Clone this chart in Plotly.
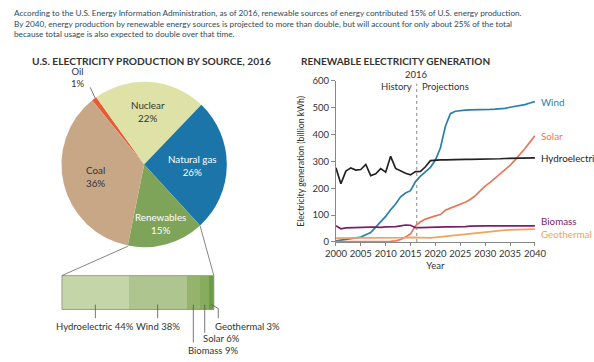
import math
import plotly.graph_objects as go

W, H = 594, 362
FONT = "Lato"

# ---------------- data ----------------
pie_labels = ["Oil", "Nuclear", "Natural gas", "Renewables", "Coal"]
pie_values = [1, 22, 26, 15, 36]
pie_colors = ["#e85a35", "#dfe2a6", "#1b75a8", "#7ea45a", "#c8a787"]
pie_text_colors = ["#333", "#333", "white", "white", "#333"]

ren_labels = ["Hydroelectric", "Wind", "Biomass", "Solar", "Geothermal"]
ren_values = [44, 38, 9, 6, 3]
ren_colors = ["#c4d5a8", "#afc58f", "#94b46c", "#86ad5e", "#6b9c47"]

years = list(range(2000, 2041))
hydro = [276, 217, 264, 276, 268, 270, 289, 247, 254, 273, 260, 319, 274, 264, 256, 250,
         262, 263, 280, 303, 305, 306, 306, 307, 307, 307, 308, 308, 308, 309, 309, 309,
         310, 310, 311, 311, 311, 312, 312, 312, 313]
wind = [4, 7, 10, 11, 14, 18, 27, 35, 55, 74, 95, 120, 141, 168, 182, 191,
        225, 245, 262, 278, 305, 350, 430, 478, 487, 490, 491, 492, 492, 493, 493, 494,
        495, 496, 498, 502, 505, 507, 512, 518, 523]
solar = [1, 1, 1, 1, 1, 1, 1, 1, 1, 1, 1, 2, 4, 9, 18, 30,
         60, 75, 85, 92, 97, 102, 118, 126, 133, 140, 148, 158, 172, 190, 208, 222,
         238, 252, 270, 285, 305, 325, 348, 372, 396]
biomass = [60, 49, 52, 53, 53, 54, 54, 55, 55, 54, 56, 56, 57, 60, 63, 62,
           53, 53, 54, 54, 55, 55, 56, 56, 56, 57, 57, 59, 60, 60, 60, 60,
           60, 60, 60, 60, 60, 60, 60, 60, 60]
geothermal = [14, 14, 14, 14, 14, 14, 14, 14, 15, 15, 15, 16, 16, 16, 16, 17,
              16, 16, 15, 15, 17, 19, 21, 23, 25, 27, 29, 31, 34, 36, 38, 40,
              42, 43, 44, 45, 46, 47, 47, 48, 48]
series = [
    ("Wind", wind, "#2a80a8", 0),
    ("Solar", solar, "#e8785c", 0),
    ("Hydroelectric", hydro, "#222222", 0),
    ("Biomass", biomass, "#7a1f6e", 5),
    ("Geothermal", geothermal, "#f0a45a", -5),
]
x_ticks = [2000, 2005, 2010, 2015, 2020, 2025, 2030, 2035, 2040]
y_ticks = [0, 100, 200, 300, 400, 500, 600]
split_year = 2016.25

def X(px):
    return px / W

def Y(py):
    return 1 - py / H

fig = go.Figure()

# ---------------- pie ----------------
pcx, pcy, pr = 138.5, 163.5, 86
rotation = -39
fig.add_trace(go.Pie(
    labels=pie_labels, values=pie_values, sort=False, direction="clockwise",
    rotation=rotation,
    domain=dict(x=[X(pcx - pr), X(pcx + pr)], y=[Y(pcy + pr), Y(pcy - pr)]),
    marker=dict(colors=pie_colors, line=dict(width=0)),
    textinfo="none", hoverinfo="skip", showlegend=False,
))

tot = sum(pie_values)
bounds = [rotation]
for v in pie_values:
    bounds.append(bounds[-1] + 360 * v / tot)

def edge(angle, rr=pr):
    a = math.radians(angle)
    return pcx + rr * math.sin(a), pcy - rr * math.cos(a)

label_font = dict(family=FONT, size=9.5, color="#333")
rfrac = [0, 0.64, 0.58, 0.74, 0.6]
for i, (l, v) in enumerate(zip(pie_labels, pie_values)):
    if l == "Oil":
        continue
    mid = (bounds[i] + bounds[i + 1]) / 2
    tx, ty = edge(mid, pr * rfrac[i])
    fig.add_annotation(xref="paper", yref="paper", x=X(tx), y=Y(ty), text=f"{l}<br>{v}%",
                       showarrow=False, xanchor="center", yanchor="middle",
                       font=dict(family=FONT, size=9.8, color=pie_text_colors[i]))

# Oil label
oil_mid = (bounds[0] + bounds[1]) / 2
ox, oy = edge(oil_mid)
fig.add_shape(type="line", xref="paper", yref="paper", x0=X(ox + 1), y0=Y(oy),
              x1=X(ox - 4), y1=Y(oy - 11), line=dict(color="#555", width=0.8))
fig.add_annotation(xref="paper", yref="paper", x=X(ox - 17), y=Y(oy - 7), text="Oil<br>1%",
                   showarrow=False, xanchor="center", yanchor="bottom", font=label_font)

# ---------------- renewables bar ----------------
bx0, bx1, by0, by1 = 53, 211, 278, 313
for l, v, c in zip(ren_labels, ren_values, ren_colors):
    fig.add_trace(go.Bar(y=[0], x=[v], orientation="h", marker=dict(color=c, line=dict(width=0)),
                         xaxis="x2", yaxis="y2", showlegend=False, hoverinfo="skip", name=l))
fig.add_shape(type="rect", xref="x2 domain", yref="y2 domain", x0=0, x1=1, y0=0, y1=1,
              line=dict(color="#8a8a8a", width=0.8))

rx, ry = edge(bounds[3])
lx, ly = edge(bounds[4])
fig.add_shape(type="line", xref="paper", yref="paper", x0=X(lx), y0=Y(ly), x1=X(bx0), y1=Y(by0),
              line=dict(color="#666", width=0.8))
fig.add_shape(type="line", xref="paper", yref="paper", x0=X(rx), y0=Y(ry), x1=X(bx1), y1=Y(by0),
              line=dict(color="#666", width=0.8))

cum = 0
mids = []
for v in ren_values:
    mids.append(bx0 + (bx1 - bx0) * (cum + v / 2) / 100)
    cum += v
ltop = by1 - 5
line_style = dict(color="#555", width=0.8)
for i in (0, 1):
    fig.add_shape(type="line", xref="paper", yref="paper", x0=X(mids[i]), x1=X(mids[i]),
                  y0=Y(ltop), y1=Y(322), line=line_style)
    fig.add_annotation(xref="paper", yref="paper", x=X(mids[i]), y=Y(331),
                       text=f"{ren_labels[i]} {ren_values[i]}%", showarrow=False,
                       xanchor="center", yanchor="middle", font=label_font)
fig.add_shape(type="line", xref="paper", yref="paper", x0=X(mids[2]), x1=X(mids[2]),
              y0=Y(ltop), y1=Y(347), line=line_style)
fig.add_annotation(xref="paper", yref="paper", x=X(mids[2] - 8), y=Y(355),
                   text=f"{ren_labels[2]} {ren_values[2]}%", showarrow=False,
                   xanchor="left", yanchor="middle", font=label_font)
fig.add_shape(type="line", xref="paper", yref="paper", x0=X(mids[3]), x1=X(mids[3]),
              y0=Y(ltop), y1=Y(337), line=line_style)
fig.add_annotation(xref="paper", yref="paper", x=X(mids[3] - 4), y=Y(343),
                   text=f"{ren_labels[3]} {ren_values[3]}%", showarrow=False,
                   xanchor="left", yanchor="middle", font=label_font)
gx = mids[4]
fig.add_shape(type="path", xref="paper", yref="paper",
              path=f"M {X(gx)} {Y(ltop)} L {X(gx + 7)} {Y(ltop + 4)} L {X(gx + 7)} {Y(322)}",
              line=line_style)
fig.add_annotation(xref="paper", yref="paper", x=X(gx + 2), y=Y(331),
                   text=f"{ren_labels[4]} {ren_values[4]}%", showarrow=False,
                   xanchor="left", yanchor="middle", font=label_font)

# ---------------- line chart ----------------
for name, vals, col, _ in series:
    fig.add_trace(go.Scatter(x=years, y=vals, mode="lines", line=dict(color=col, width=1.7),
                             xaxis="x", yaxis="y", showlegend=False, hoverinfo="skip", name=name,
                             cliponaxis=False))
for name, vals, col, shift in series:
    fig.add_annotation(x=years[-1], y=vals[-1], xref="x", yref="y", text=name, showarrow=False,
                       xanchor="left", yanchor="middle", xshift=4, yshift=shift,
                       font=dict(family=FONT, size=9.8, color=col))

fig.add_shape(type="line", xref="x", yref="y", x0=split_year, x1=split_year, y0=0, y1=590,
              line=dict(color="#777", width=0.9, dash="dot"))
fig.add_annotation(xref="x", yref="paper", x=split_year, y=Y(71), text="2016", showarrow=False,
                   xanchor="center", yanchor="middle", font=label_font)
fig.add_annotation(xref="x", yref="paper", x=split_year, y=Y(83), text="History", showarrow=False,
                   xanchor="right", yanchor="middle", xshift=-3, font=label_font)
fig.add_annotation(xref="x", yref="paper", x=split_year, y=Y(83), text="Projections", showarrow=False,
                   xanchor="left", yanchor="middle", xshift=3, font=label_font)

# ---------------- titles & intro ----------------
fig.add_annotation(xref="paper", yref="paper", x=X(1), y=Y(0), xanchor="left", yanchor="top",
                   align="left", showarrow=False,
                   text=("According to the U.S. Energy Information Administration, as of 2016, renewable sources of energy contributed 15% of U.S. energy production.<br>"
                         "By 2040, energy production by renewable energy sources is projected to more than double, but will account for only about 25% of the total<br>"
                         "because total usage is also expected to double over that time."),
                   font=dict(family="Liberation Sans Narrow, Lato", size=8.2, color="#2e4a5c"))
fig.add_annotation(xref="paper", yref="paper", x=X(20), y=Y(57), xanchor="left", yanchor="middle",
                   showarrow=False, text="<b>U.S. ELECTRICITY PRODUCTION BY SOURCE, 2016</b>",
                   font=dict(family=FONT, size=10.2, color="#333"))
fig.add_annotation(xref="paper", yref="paper", x=X(300), y=Y(57), xanchor="left", yanchor="middle",
                   showarrow=False, text="<b>RENEWABLE ELECTRICITY GENERATION</b>",
                   font=dict(family=FONT, size=10, color="#333"))

tickfont = dict(family=FONT, size=9.5, color="#333")
fig.update_layout(
    width=W, height=H, margin=dict(l=0, r=0, t=0, b=0),
    paper_bgcolor="white", plot_bgcolor="white",
    barmode="stack", bargap=0,
    xaxis=dict(domain=[X(338), X(545)], range=[2000, 2040], tickvals=x_ticks, tickangle=0,
               showgrid=False, zeroline=False, showline=True, linecolor="#888", linewidth=1,
               ticks="outside", ticklen=3, tickcolor="#888", tickfont=tickfont,
               title=dict(text="Year", font=tickfont, standoff=4), anchor="y"),
    yaxis=dict(domain=[Y(243.3), Y(77.3)], range=[0, 600], tickvals=y_ticks,
               showgrid=False, zeroline=False, showline=True, linecolor="#888", linewidth=1,
               ticks="outside", ticklen=4, tickcolor="#888", tickfont=tickfont,
               title=dict(text="Electricity generation (billion kWh)",
                          font=dict(family=FONT, size=8.7, color="#333"), standoff=6), anchor="x"),
    xaxis2=dict(domain=[X(bx0), X(bx1)], range=[0, 100], visible=False, anchor="y2", fixedrange=True),
    yaxis2=dict(domain=[Y(by1), Y(by0)], range=[-0.5, 0.5], visible=False, anchor="x2", fixedrange=True),
)

fig.write_html("out.html", config={"displayModeBar": False},
               post_script="document.body.style.margin='0';document.body.style.overflow='hidden';")
